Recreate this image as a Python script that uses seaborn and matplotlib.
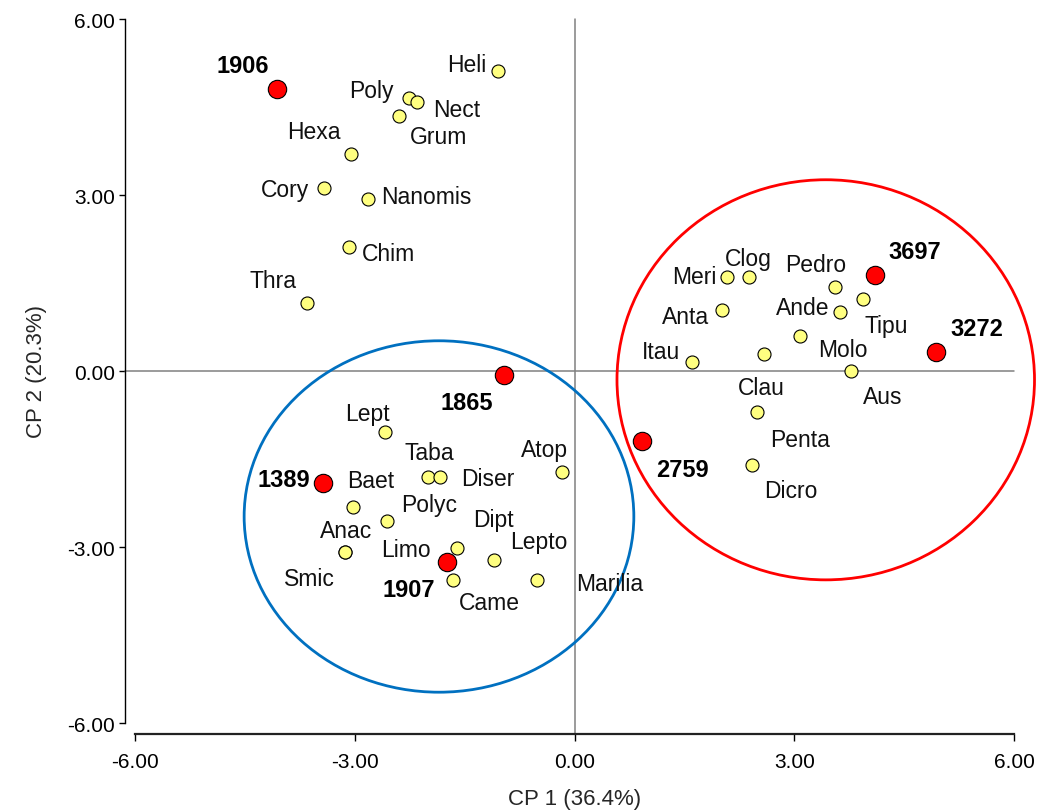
import pandas as pd
import seaborn as sns
import matplotlib.pyplot as plt
from matplotlib.patches import Ellipse

# taxa (yellow) scores on CP1 / CP2
taxa = ["Heli", "Poly", "Nect", "Grum", "Hexa", "Cory", "Nanomis", "Chim", "Thra",
        "Meri", "Clog", "Pedro", "Tipu", "Ande", "Anta", "Molo", "Itau", "Clau",
        "Aus", "Penta", "Dicro",
        "Lept", "Taba", "Diser", "Atop", "Baet", "Polyc", "Anac", "Smic", "Limo",
        "Dipt", "Came", "Lepto", "Marilia"]
taxa_x = [-1.05, -2.26, -2.15, -2.39, -3.05, -3.42, -2.82, -3.08, -3.65,
          2.08, 2.38, 3.55, 3.94, 3.62, 2.02, 3.08, 1.61, 2.59,
          3.78, 2.49, 2.42,
          -2.59, -2.00, -1.84, -0.17, -3.03, -2.56, -3.13, -3.13, -1.74,
          -1.61, -1.66, -1.10, -0.51]
taxa_y = [5.12, 4.65, 4.58, 4.35, 3.70, 3.12, 2.93, 2.12, 1.16,
          1.60, 1.60, 1.44, 1.23, 1.00, 1.04, 0.60, 0.16, 0.29,
          0.00, -0.70, -1.61,
          -1.04, -1.81, -1.81, -1.72, -2.32, -2.55, -3.09, -3.09, -3.26,
          -3.01, -3.57, -3.22, -3.57]

# sites (red)
sites = ["1906", "1865", "1389", "1907", "2759", "3697", "3272"]
sites_x = [-4.06, -0.96, -3.44, -1.74, 0.92, 4.10, 4.93]
sites_y = [4.80, -0.07, -1.91, -3.26, -1.19, 1.63, 0.32]

# groups (ellipses): centre x, centre y, width, height
groups = ["blue", "red"]
group_cx = [-1.85, 3.43]
group_cy = [-2.48, -0.15]
group_w = [5.32, 5.70]
group_h = [5.99, 6.82]

# label offsets in pixels (dx right, dy down) from each point
label_off = {
    "Heli": (-31, -6), "Poly": (-38, -8), "Nect": (40, 7), "Grum": (39, 21),
    "Hexa": (-37, -22), "Cory": (-39, 2), "Nanomis": (58, -3), "Chim": (40, 7),
    "Thra": (-34, -22), "Meri": (-33, -1), "Clog": (-1, -19), "Pedro": (-19, -22),
    "Tipu": (23, 27), "Ande": (-37, -5), "Anta": (-37, 7), "Molo": (43, 14),
    "Itau": (-31, -10), "Clau": (-3, 34), "Aus": (31, 26), "Penta": (43, 27),
    "Dicro": (39, 25), "Lept": (-17, -19), "Taba": (1, -25), "Diser": (48, 1),
    "Atop": (-18, -22), "Baet": (18, -27), "Polyc": (42, -16), "Anac": (1, -22),
    "Smic": (-36, 26), "Limo": (-41, -13), "Dipt": (37, -28), "Came": (36, 22),
    "Lepto": (45, -18), "Marilia": (73, 3),
    "1906": (-34, -24), "1865": (-37, 27), "1389": (-39, -4), "1907": (-38, 27),
    "2759": (41, 29), "3697": (40, -24), "3272": (41, -24),
}

df_taxa = pd.DataFrame({"name": taxa, "x": taxa_x, "y": taxa_y})
df_sites = pd.DataFrame({"name": sites, "x": sites_x, "y": sites_y})

sns.set_style("ticks")
plt.rcParams["font.family"] = ["Liberation Sans", "DejaVu Sans"]

fig = plt.figure(figsize=(10.43, 8.12), dpi=100)
ax = fig.add_axes([135 / 1043, 1 - 724 / 812, 879 / 1043, 704 / 812])

# reference lines at zero
ax.axvline(0, ymin=-11 / 704, ymax=1, color="#808080", lw=1.1, zorder=1, clip_on=False)
ax.axhline(0, xmin=-10 / 879, xmax=1, color="#808080", lw=1.1, zorder=1, clip_on=False)

sns.scatterplot(data=df_taxa, x="x", y="y", ax=ax, s=88, color="#FFFF80",
                edgecolor="black", linewidth=0.8, zorder=3, legend=False)
sns.scatterplot(data=df_sites, x="x", y="y", ax=ax, s=175, color="#FF0000",
                edgecolor="black", linewidth=0.8, zorder=4, legend=False)

ell_colors = {"blue": "#0070C0", "red": "#FF0000"}
for g, cx, cy, w, h in zip(groups, group_cx, group_cy, group_w, group_h):
    ax.add_patch(Ellipse((cx, cy), w, h, fill=False, edgecolor=ell_colors[g],
                         lw=2.0, zorder=5, clip_on=False))

for name, x, y in zip(taxa, taxa_x, taxa_y):
    dx, dy = label_off[name]
    kw = {}
    if name == "Clau":
        kw["bbox"] = dict(facecolor="white", edgecolor="none", pad=1.5)
    ax.annotate(name, (x, y), xytext=(dx * 0.72, -dy * 0.72), textcoords="offset points",
                ha="center", va="center", fontsize=16.5, color="#111111", zorder=6, **kw)

for name, x, y in zip(sites, sites_x, sites_y):
    dx, dy = label_off[name]
    ax.annotate(name, (x, y), xytext=(dx * 0.72, -dy * 0.72), textcoords="offset points",
                ha="center", va="center", fontsize=17, fontweight="bold", color="black",
                zorder=6)

ax.set_xlim(-6, 6)
ax.set_ylim(-6, 6)
ticks = [-6, -3, 0, 3, 6]
ax.set_xticks(ticks)
ax.set_yticks(ticks)
ax.set_xticklabels([f"{t:.2f}" for t in ticks])
ax.set_yticklabels([f"{t:.2f}" for t in ticks])
ax.tick_params(axis="both", labelsize=15, colors="black")
ax.tick_params(axis="y", length=4, width=1, pad=3)
ax.tick_params(axis="x", length=5, width=1, pad=8)

ax.set_xlabel("CP 1 (36.4%)", fontsize=16, labelpad=12)
ax.set_ylabel("CP 2 (20.3%)", fontsize=16, labelpad=15)

sns.despine(ax=ax, offset={"left": 7.2, "bottom": 7.9}, trim=True)
ax.spines["left"].set_linewidth(1.0)
ax.spines["bottom"].set_linewidth(1.6)
ax.spines["left"].set_color("black")
ax.spines["bottom"].set_color("#222222")

fig.savefig("out.png", dpi=100)
